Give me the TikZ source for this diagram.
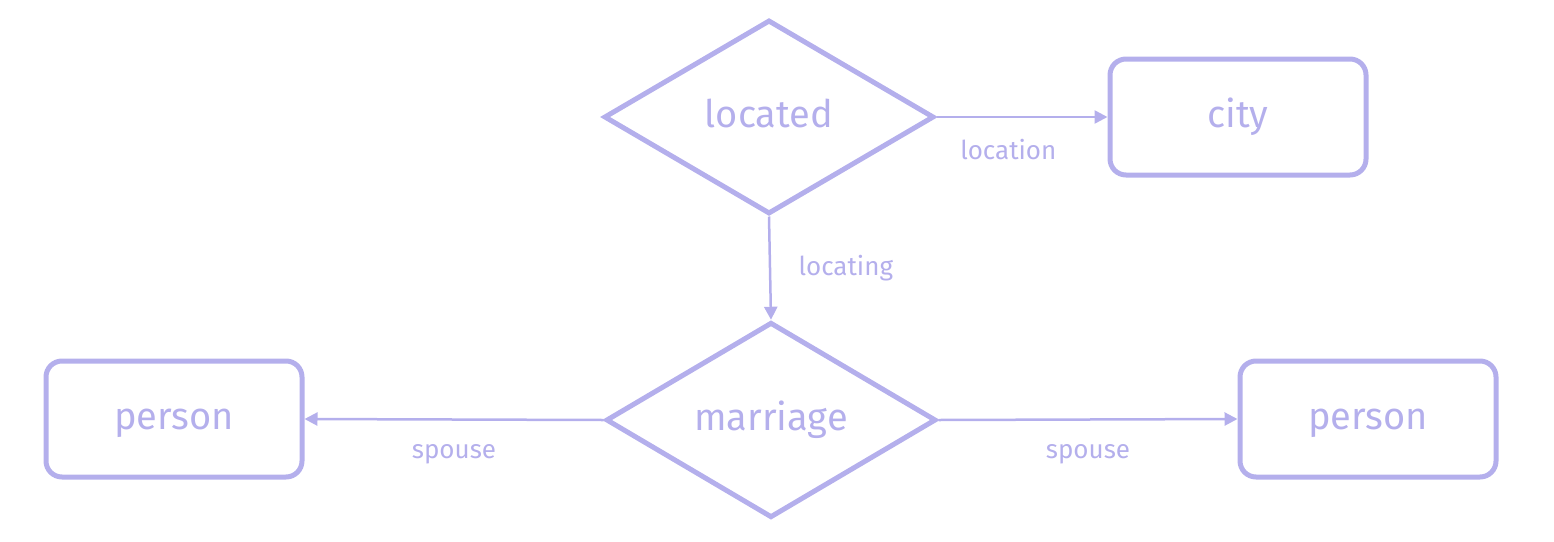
\documentclass[tikz,border=0pt]{standalone}
\usepackage{fontspec}
\setmainfont{Fira Sans}
\usetikzlibrary{shapes.geometric,arrows.meta,scopes}
\definecolor{lav}{RGB}{180,175,236}
\begin{document}
\begin{tikzpicture}[x=1pt,y=-1pt,
    entity/.style={rectangle,rounded corners=16pt,draw=lav,line width=5pt,text=lav,minimum width=256pt,minimum height=116pt,text height=31pt,text depth=11pt,font=\fontsize{38}{42}\selectfont},
    rel/.style={diamond,draw=lav,line width=5pt,text=lav,minimum width=330pt,minimum height=194pt,inner sep=0pt,text height=31pt,text depth=11pt,font=\fontsize{38}{42}\selectfont},
    link/.style={-{Triangle[length=13pt,width=13pt]},draw=lav,fill=lav,line width=2.5pt},
    role/.style={text=lav,font=\fontsize{26}{30}\selectfont}
]
    \useasboundingbox (0,0) rectangle (1554,541);
    \node[rel] (located) at (769,117) {located};
    \node[rel] (marriage) at (771,420) {marriage};
    \node[entity] (city) at (1238,117) {city};
    \node[entity] (personL) at (174,419) {person};
    \node[entity] (personR) at (1368,419) {person};
    {[link]
        \draw (located.east) -- (city.west) node[role,pos=0.42,below=18pt,fill=none] {location};
        \draw (located.south) -- (marriage.north) node[role,midway,right=24pt,fill=none] {locating};
        \draw (marriage.west) -- (personL.east) node[role,pos=0.5,below=20pt,fill=none] {spouse};
        \draw (marriage.east) -- (personR.west) node[role,pos=0.5,below=20pt,fill=none] {spouse};
    }
\end{tikzpicture}
\end{document}
